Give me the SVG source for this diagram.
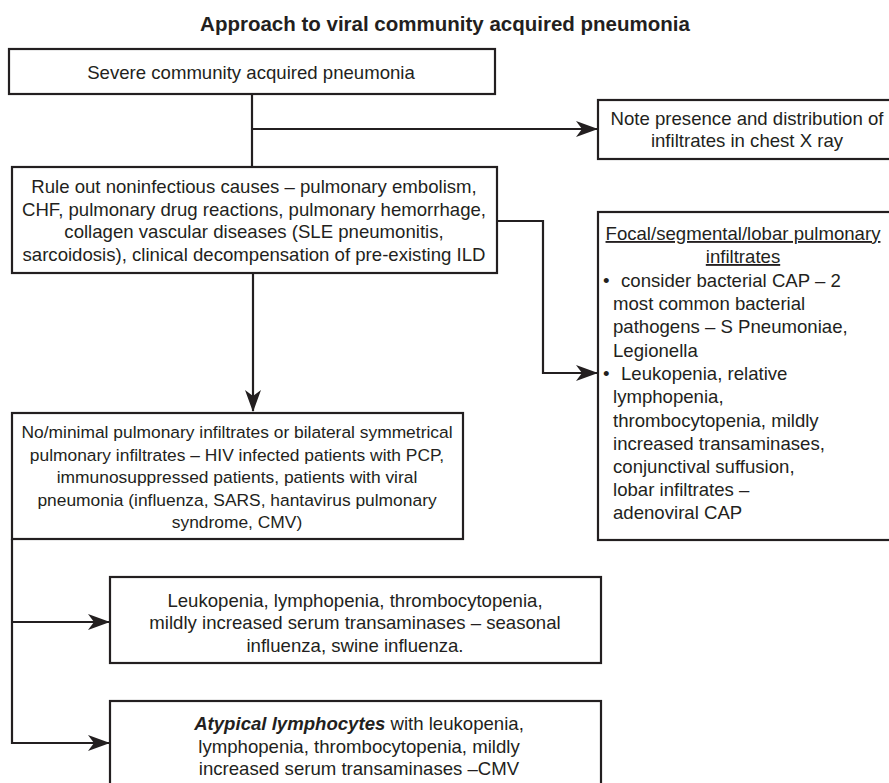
<svg xmlns="http://www.w3.org/2000/svg" width="889" height="783" viewBox="0 0 889 783">
<style>
  .box { fill: #ffffff; stroke: #231f20; stroke-width: 2.2; }
  .t { font-family: "Liberation Sans", Arial, sans-serif; font-size: 18.6px; fill: #231f20; }
  .s { font-size: 17.4px; }
  .c { text-anchor: middle; }
  .title { font-family: "Liberation Sans", Arial, sans-serif; font-size: 20.5px; font-weight: bold; fill: #231f20; text-anchor: middle; }
  .conn { fill: none; stroke: #231f20; stroke-width: 2.2; }
  .u { text-decoration: underline; }
</style>
<defs>
  <marker id="arr" viewBox="0 0 22 16" refX="21" refY="8" markerWidth="22" markerHeight="16" markerUnits="userSpaceOnUse" orient="auto">
    <path d="M0,0 L22,8 L0,16 L6,8 Z" fill="#231f20"/>
  </marker>
</defs>
<rect width="889" height="783" fill="#ffffff"/>
<text class="title" x="445" y="31">Approach to viral community acquired pneumonia</text>

<g id="connectors">
  <path class="conn" d="M252,94 V167"/>
  <path class="conn" d="M252,129 H597" marker-end="url(#arr)"/>
  <path class="conn" d="M253,273 V411" marker-end="url(#arr)"/>
  <path class="conn" d="M497,221 H543 V373 H597" marker-end="url(#arr)"/>
  <path class="conn" d="M12,539 V743 H109" marker-end="url(#arr)"/>
  <path class="conn" d="M12,622 H109" marker-end="url(#arr)"/>
</g>

<g id="n1">
  <rect class="box" x="9" y="49" width="486" height="45"/>
  <text class="t c" x="251" y="79">Severe community acquired pneumonia</text>
</g>

<g id="n2">
  <rect class="box" x="598" y="100" width="300" height="59"/>
  <text class="t c" x="747" y="125">Note presence and distribution of</text>
  <text class="t c" x="747" y="147">infiltrates in chest X ray</text>
</g>

<g id="n3">
  <rect class="box" x="12" y="167" width="485" height="106"/>
  <text class="t c" x="254" y="193">Rule out noninfectious causes – pulmonary embolism,</text>
  <text class="t c" x="254" y="216">CHF, pulmonary drug reactions, pulmonary hemorrhage,</text>
  <text class="t c" x="254" y="238">collagen vascular diseases (SLE pneumonitis,</text>
  <text class="t c" x="254" y="261">sarcoidosis), clinical decompensation of pre-existing ILD</text>
</g>

<g id="n4">
  <rect class="box" x="598" y="212" width="300" height="328"/>
  <text class="t c u" x="743" y="240">Focal/segmental/lobar pulmonary</text>
  <text class="t c u" x="743" y="263">infiltrates</text>
  <text class="t" x="603" y="287">•</text>
  <text class="t" x="621" y="287">consider bacterial CAP – 2</text>
  <text class="t" x="613" y="310">most common bacterial</text>
  <text class="t" x="613" y="333">pathogens – S Pneumoniae,</text>
  <text class="t" x="613" y="357">Legionella</text>
  <text class="t" x="603" y="380">•</text>
  <text class="t" x="621" y="380">Leukopenia, relative</text>
  <text class="t" x="613" y="403">lymphopenia,</text>
  <text class="t" x="613" y="427">thrombocytopenia, mildly</text>
  <text class="t" x="613" y="450">increased transaminases,</text>
  <text class="t" x="613" y="473">conjunctival suffusion,</text>
  <text class="t" x="613" y="496">lobar infiltrates –</text>
  <text class="t" x="613" y="519">adenoviral CAP</text>
</g>

<g id="n5">
  <rect class="box" x="12" y="413" width="451" height="126"/>
  <text class="t s c" x="237" y="438">No/minimal pulmonary infiltrates or bilateral symmetrical</text>
  <text class="t s c" x="237" y="461">pulmonary infiltrates – HIV infected patients with PCP,</text>
  <text class="t s c" x="237" y="483">immunosuppressed patients, patients with viral</text>
  <text class="t s c" x="237" y="506">pneumonia (influenza, SARS, hantavirus pulmonary</text>
  <text class="t s c" x="237" y="528">syndrome, CMV)</text>
</g>

<g id="n6">
  <rect class="box" x="110" y="577" width="491" height="86"/>
  <text class="t c" x="355" y="607">Leukopenia, lymphopenia, thrombocytopenia,</text>
  <text class="t c" x="355" y="629">mildly increased serum transaminases – seasonal</text>
  <text class="t c" x="355" y="652">influenza, swine influenza.</text>
</g>

<g id="n7">
  <rect class="box" x="110" y="701" width="491" height="100"/>
  <text class="t c" x="359" y="730"><tspan font-weight="bold" font-style="italic">Atypical lymphocytes</tspan> with leukopenia,</text>
  <text class="t c" x="359" y="753">lymphopenia, thrombocytopenia, mildly</text>
  <text class="t c" x="359" y="775">increased serum transaminases –CMV</text>
</g>
</svg>
